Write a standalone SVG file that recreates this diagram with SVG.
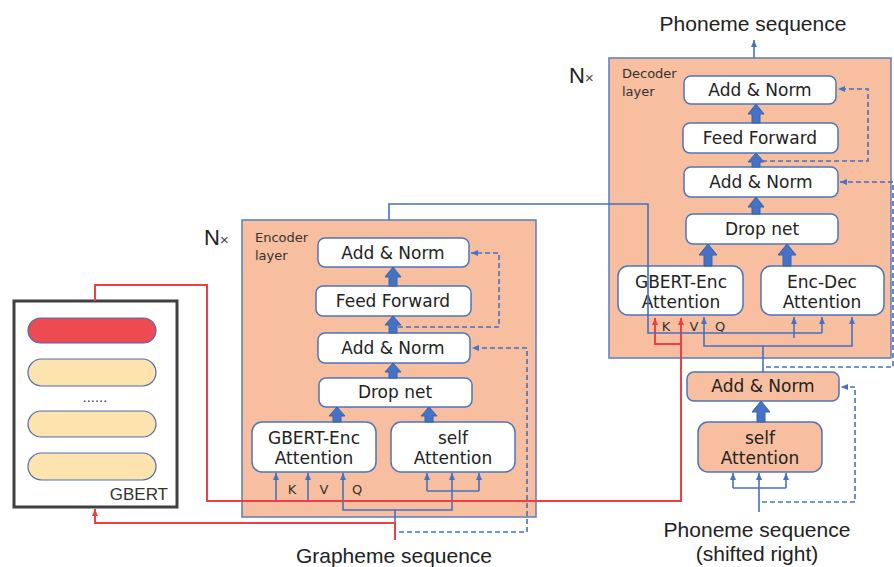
<svg xmlns="http://www.w3.org/2000/svg" width="894" height="567" viewBox="0 0 894 567">
  <defs>
    <style>
      .lbl { font-family: "DejaVu Sans", "Open Sans", sans-serif; font-size: 17px; fill: #222; text-anchor: middle; }
      .small { font-family: "DejaVu Sans", "Open Sans", sans-serif; font-size: 13px; fill: #333; }
      .kvq { font-family: "DejaVu Sans", "Open Sans", sans-serif; font-size: 13px; fill: #333; text-anchor: middle; }
      .io { font-family: "Liberation Sans", Arial, sans-serif; font-size: 21px; fill: #222; text-anchor: middle; }
      .nx { font-family: "Liberation Sans", Arial, sans-serif; font-size: 22px; fill: #222; }
      .layer { fill: #F7BE9F; stroke: #5B7CC0; stroke-width: 1.5; }
      .box { fill: #FFFFFF; stroke: #4F74BA; stroke-width: 1.5; }
      .pbox { fill: #F7BE9F; stroke: #4F74BA; stroke-width: 1.5; }
      .blk { fill: #4472C4; stroke: #3A62AA; stroke-width: 1; }
      .ln { fill: none; stroke: #4472C4; stroke-width: 1.6; }
      .dash { fill: none; stroke: #4472C4; stroke-width: 1.6; stroke-dasharray: 5 3; }
      .red { fill: none; stroke: #EE3F45; stroke-width: 2; }
    </style>
    <marker id="ab" markerWidth="8" markerHeight="8" refX="7" refY="4" orient="auto" markerUnits="userSpaceOnUse">
      <path d="M0,1 L7,4 L0,7 Z" fill="#4472C4"/>
    </marker>
    <marker id="ar" markerWidth="8" markerHeight="8" refX="7" refY="4" orient="auto" markerUnits="userSpaceOnUse">
      <path d="M0,1 L7,4 L0,7 Z" fill="#EE3F45"/>
    </marker>
  </defs>

  <rect width="894" height="567" fill="#FFFFFF"/>

  <!-- GBERT stack -->
  <g id="gbert">
    <rect x="14" y="301" width="163" height="206" fill="#FFFFFF" stroke="#404040" stroke-width="3"/>
    <rect x="28" y="318" width="128" height="25" rx="12.5" fill="#EE4A52" stroke="#4F6DB0" stroke-width="1.2"/>
    <rect x="28" y="359" width="128" height="27" rx="13.5" fill="#FDE4AE" stroke="#4F6DB0" stroke-width="1.2"/>
    <text x="95" y="402" class="small" text-anchor="middle">......</text>
    <rect x="28" y="411" width="128" height="26" rx="13" fill="#FDE4AE" stroke="#4F6DB0" stroke-width="1.2"/>
    <rect x="28" y="453" width="128" height="27" rx="13.5" fill="#FDE4AE" stroke="#4F6DB0" stroke-width="1.2"/>
    <text x="168" y="500" font-family="Liberation Sans, Arial, sans-serif" font-size="17" fill="#333" text-anchor="end">GBERT</text>
  </g>

  <!-- Encoder layer -->
  <g id="encoder">
    <rect class="layer" x="242" y="220" width="294" height="297"/>
    <text class="small" x="255" y="242">Encoder<tspan x="255" dy="18">layer</tspan></text>
    <text class="nx" x="204" y="245">N<tspan font-size="15" fill="#444">×</tspan></text>
  </g>
  <g id="enc-addnorm2">
    <rect class="box" x="318" y="238" width="151" height="29" rx="7"/>
    <text class="lbl" x="393" y="259">Add &amp; Norm</text>
  </g>
  <g id="enc-ff">
    <rect class="box" x="316" y="286" width="155" height="30" rx="7"/>
    <text class="lbl" x="393" y="307">Feed Forward</text>
  </g>
  <g id="enc-addnorm1">
    <rect class="box" x="318" y="333" width="152" height="30" rx="7"/>
    <text class="lbl" x="393" y="354">Add &amp; Norm</text>
  </g>
  <g id="enc-drop">
    <rect class="box" x="319" y="378" width="153" height="29" rx="7"/>
    <text class="lbl" x="395" y="398">Drop net</text>
  </g>
  <g id="enc-gbert-att">
    <rect class="box" x="252" y="422" width="124" height="50" rx="10"/>
    <text class="lbl" x="314" y="444">GBERT-Enc<tspan x="314" dy="20">Attention</tspan></text>
  </g>
  <g id="enc-self-att">
    <rect class="box" x="391" y="422" width="124" height="50" rx="10"/>
    <text class="lbl" x="453" y="444">self<tspan x="453" dy="20">Attention</tspan></text>
  </g>

  <!-- Decoder layer -->
  <g id="decoder">
    <rect class="layer" x="609" y="58" width="282" height="300"/>
    <text class="small" x="622" y="78">Decoder<tspan x="622" dy="18">layer</tspan></text>
    <text class="nx" x="569" y="83">N<tspan font-size="15" fill="#444">×</tspan></text>
  </g>
  <g id="dec-addnorm3">
    <rect class="box" x="684" y="76" width="152" height="28" rx="7"/>
    <text class="lbl" x="760" y="96">Add &amp; Norm</text>
  </g>
  <g id="dec-ff">
    <rect class="box" x="683" y="123" width="155" height="30" rx="7"/>
    <text class="lbl" x="760" y="144">Feed Forward</text>
  </g>
  <g id="dec-addnorm2">
    <rect class="box" x="684" y="167" width="154" height="30" rx="7"/>
    <text class="lbl" x="761" y="188">Add &amp; Norm</text>
  </g>
  <g id="dec-drop">
    <rect class="box" x="686" y="214" width="152" height="30" rx="7"/>
    <text class="lbl" x="762" y="235">Drop net</text>
  </g>
  <g id="dec-gbert-att">
    <rect class="box" x="618" y="266" width="125" height="49" rx="10"/>
    <text class="lbl" x="681" y="288">GBERT-Enc<tspan x="681" dy="20">Attention</tspan></text>
  </g>
  <g id="dec-encdec-att">
    <rect class="box" x="761" y="266" width="123" height="49" rx="10"/>
    <text class="lbl" x="822" y="288">Enc-Dec<tspan x="822" dy="20">Attention</tspan></text>
  </g>
  <g id="dec-addnorm1">
    <rect class="pbox" x="687" y="372" width="152" height="29" rx="7"/>
    <text class="lbl" x="763" y="392">Add &amp; Norm</text>
  </g>
  <g id="dec-self-att">
    <rect class="pbox" x="698" y="422" width="124" height="50" rx="10"/>
    <text class="lbl" x="760" y="444">self<tspan x="760" dy="20">Attention</tspan></text>
  </g>

  <!-- Input / output labels -->
  <g id="labels">
    <text class="io" x="753" y="31">Phoneme sequence</text>
    <text class="io" x="757" y="537">Phoneme sequence<tspan x="757" dy="24">(shifted right)</tspan></text>
    <text class="io" x="394" y="563">Grapheme sequence</text>
    <text class="kvq" x="292" y="494">K</text>
    <text class="kvq" x="324" y="494">V</text>
    <text class="kvq" x="357" y="494">Q</text>
    <text class="kvq" x="666" y="331">K</text>
    <text class="kvq" x="694" y="331">V</text>
    <text class="kvq" x="720" y="331">Q</text>
  </g>

  <!-- Connectors -->
  <g id="connectors">
    <!-- block arrows, encoder -->
    <polygon class="blk" points="389,286 389,277 385,277 393,267 401,277 397,277 397,286"/>
    <polygon class="blk" points="389,333 389,325 385,325 393,316 401,325 397,325 397,333"/>
    <polygon class="blk" points="389,378 389,372 385,372 393,363 401,372 397,372 397,378"/>
    <polygon class="blk" points="333,422 333,416 329,416 337,407 345,416 341,416 341,422"/>
    <polygon class="blk" points="425,422 425,416 421,416 429,407 437,416 433,416 433,422"/>
    <!-- block arrows, decoder -->
    <polygon class="blk" points="752,123 752,114 748,114 756,104 764,114 760,114 760,123"/>
    <polygon class="blk" points="752,167 752,162 748,162 756,153 764,162 760,162 760,167"/>
    <polygon class="blk" points="752,214 752,207 748,207 756,197 764,207 760,207 760,214"/>
    <polygon class="blk" points="704,266 704,255 699,255 708,244 717,255 712,255 712,266"/>
    <polygon class="blk" points="783,266 783,255 778,255 787,244 796,255 791,255 791,266"/>
    <polygon class="blk" points="757,422 757,412 752,412 761,401 770,412 765,412 765,422"/>

    <!-- encoder residuals -->
    <path class="dash" d="M398,327 H499 V253 H471" marker-end="url(#ab)"/>
    <path class="dash" d="M399,532 H527 V348 H472" marker-end="url(#ab)"/>

    <!-- encoder inputs -->
    <path class="ln" d="M276,501 V473" marker-end="url(#ab)"/>
    <path class="ln" d="M308,501 V473" marker-end="url(#ab)"/>
    <path class="ln" d="M395,523 V510 H343 V473" marker-end="url(#ab)"/>
    <path class="ln" d="M395,510 H452 V473" marker-end="url(#ab)"/>
    <path class="ln" d="M427,491 H479"/>
    <path class="ln" d="M427,491 V473" marker-end="url(#ab)"/>
    <path class="ln" d="M479,491 V473" marker-end="url(#ab)"/>

    <!-- grapheme sequence into GBERT -->
    <path class="red" d="M395,540 V523 H95 V509" marker-end="url(#ar)"/>
    <!-- GBERT output to GBERT-Enc attention (K, V) -->
    <path class="red" d="M95,301 V285 H207 V501 H681 V318" marker-end="url(#ar)"/>
    <path class="red" d="M681,344 H655 V318" marker-end="url(#ar)"/>

    <!-- encoder output to Enc-Dec attention -->
    <path class="ln" d="M389,220 V204 H648 V333 H822"/>
    <path class="ln" d="M794,338 V317" marker-end="url(#ab)"/>
    <path class="ln" d="M822,333 V317" marker-end="url(#ab)"/>

    <!-- decoder queries -->
    <path class="ln" d="M763,372 V346 H704 V317" marker-end="url(#ab)"/>
    <path class="ln" d="M763,346 H852 V317" marker-end="url(#ab)"/>

    <!-- decoder residuals -->
    <path class="dash" d="M762,161 H868 V89 H838" marker-end="url(#ab)"/>
    <path class="dash" d="M766,367 H893 V182 H840" marker-end="url(#ab)"/>
    <path class="dash" d="M762,502 H855 V387 H841" marker-end="url(#ab)"/>

    <!-- decoder self-attention inputs -->
    <path class="ln" d="M759,512 V473" marker-end="url(#ab)"/>
    <path class="ln" d="M733,488 H786"/>
    <path class="ln" d="M733,488 V473" marker-end="url(#ab)"/>
    <path class="ln" d="M786,488 V473" marker-end="url(#ab)"/>

    <!-- decoder output -->
    <path class="ln" d="M754,58 V40" marker-end="url(#ab)"/>
  </g>
</svg>
